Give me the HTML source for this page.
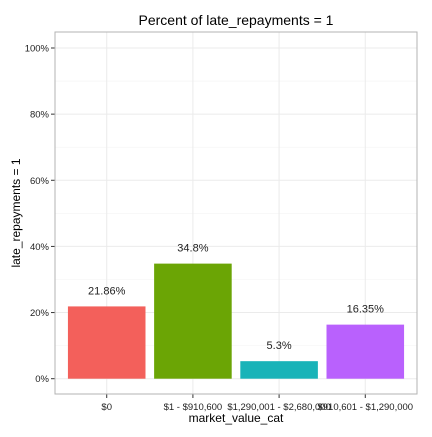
<!DOCTYPE html>
<html><head><style>body{margin:0;background:#fff}svg{font-family:"Liberation Sans",sans-serif}</style></head>
<body>
<svg id="c" width="432" height="432"></svg>
<script>
const categories=["$0","$1 - $910,600","$1,290,001 - $2,680,000","$910,601 - $1,290,000"];
const values=[21.86,34.8,5.3,16.35];
const valueLabels=["21.86%","34.8%","5.3%","16.35%"];
const colors=["#F3605B","#6BA505","#19B3B8","#B961FD"];
const yTicks=[0,20,40,60,80,100];
const NS="http://www.w3.org/2000/svg",svg=document.getElementById('c');
const L=55,R=417,T=32,B=394,y0=378.7,y100=48;
const y=v=>y0+(y100-y0)*v/100;
const band=(R-L)/(categories.length+0.2);
const x=i=>L+band*0.6+band*i;
function el(t,a,txt){const e=document.createElementNS(NS,t);for(const k in a)e.setAttribute(k,a[k]);if(txt!=null)e.textContent=txt;svg.appendChild(e);return e;}
let e=el('rect',{x:L,y:T,width:R-L,height:B-T,fill:'#fff'});


for(let v=10;v<=100;v+=20){e=el('line',{x1:L,x2:R,y1:y(v),y2:y(v),stroke:'#f3f3f3','stroke-width':0.6});}
yTicks.forEach(v=>{e=el('line',{x1:L,x2:R,y1:y(v),y2:y(v),stroke:'#ebebeb','stroke-width':1});


e=el('line',{x1:L-4,x2:L,y1:y(v),y2:y(v),stroke:'#333'});
e=el('text',{x:L-6,y:y(v)+3.5,'text-anchor':'end','font-size':9.5,fill:'#222'},v+'%');

});
categories.forEach((c,i)=>{e=el('line',{x1:x(i),x2:x(i),y1:T,y2:B,stroke:'#ebebeb'});

});
categories.forEach((c,i)=>{const w=band*0.9;
e=el('rect',{x:x(i)-w/2,y:y(values[i]),width:w,height:y0-y(values[i]),fill:colors[i]});


e=el('text',{x:x(i),y:y(values[i])-12,'text-anchor':'middle','font-size':11,fill:'#222'},valueLabels[i]);


e=el('line',{x1:x(i),x2:x(i),y1:B,y2:B+4,stroke:'#333'});
e=el('text',{x:x(i),y:B+16,'text-anchor':'middle','font-size':9.5,fill:'#222'},c);

});
e=el('rect',{x:L,y:T,width:R-L,height:B-T,fill:'none',stroke:'#b3b3b3','stroke-width':1});


e=el('text',{x:(L+R)/2,y:25,'text-anchor':'middle','font-size':14,fill:'#000'},'Percent of late_repayments = 1');


e=el('text',{x:(L+R)/2,y:422,'text-anchor':'middle','font-size':12,fill:'#000'},'market_value_cat');


e=el('text',{x:0,y:0,'text-anchor':'middle','font-size':12,fill:'#000',transform:'translate(20,'+(T+B)/2+') rotate(-90)'},'late_repayments = 1');


</script>
</body></html>
